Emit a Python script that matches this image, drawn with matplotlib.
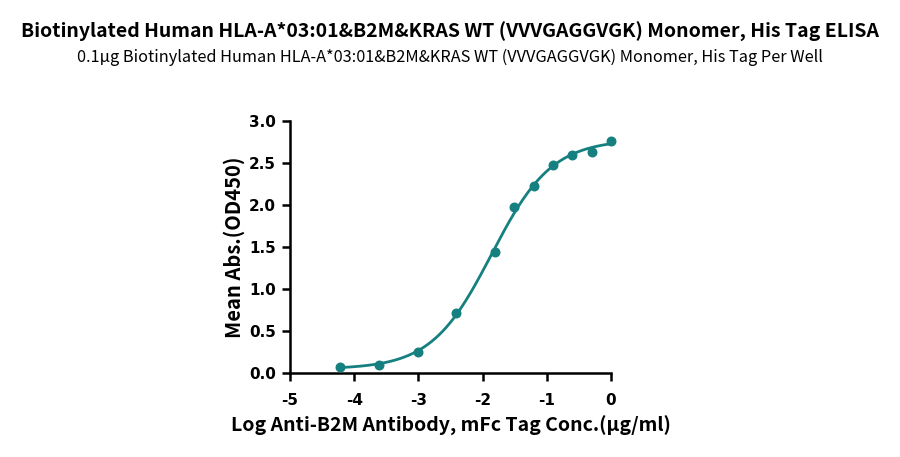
import numpy as np
import matplotlib

matplotlib.use("Agg")
import matplotlib.pyplot as plt

plt.rcParams["axes.unicode_minus"] = False

# log10 concentration (ug/ml) and mean OD450
log_conc = [-4.214, -3.612, -3.010, -2.408, -1.806, -1.505, -1.204, -0.903, -0.602, -0.301, 0.0]
od450 = [0.071, 0.103, 0.249, 0.717, 1.441, 1.983, 2.225, 2.474, 2.600, 2.636, 2.767]

title = "Biotinylated Human HLA-A*03:01&B2M&KRAS WT (VVVGAGGVGK) Monomer, His Tag ELISA"
subtitle = "0.1µg Biotinylated Human HLA-A*03:01&B2M&KRAS WT (VVVGAGGVGK) Monomer, His Tag Per Well"
xlabel = "Log Anti-B2M Antibody, mFc Tag Conc.(µg/ml)"
ylabel = "Mean Abs.(OD450)"

COLOR = "#168080"
CJK = ["Noto Sans CJK SC", "DejaVu Sans"]


def four_pl(x, bottom, top, logec50, hill):
    return bottom + (top - bottom) / (1 + 10 ** ((logec50 - x) * hill))


def fit_four_pl(x, y):
    # crude grid search least squares, numpy only
    x = np.asarray(x)
    y = np.asarray(y)
    b = np.linspace(0.0, 0.12, 13)
    t = np.linspace(2.6, 3.0, 21)
    c = np.linspace(-2.3, -1.5, 41)
    h = np.linspace(0.7, 1.6, 37)
    B, T, C, H = np.meshgrid(b, t, c, h, indexing="ij")
    pred = four_pl(x[None, None, None, None, :], B[..., None], T[..., None],
                   C[..., None], H[..., None])
    sse = ((pred - y) ** 2).sum(axis=-1)
    i = np.unravel_index(np.argmin(sse), sse.shape)
    return B[i], T[i], C[i], H[i]


params = fit_four_pl(log_conc, od450)
xs = np.linspace(min(log_conc), max(log_conc), 300)

fig = plt.figure(figsize=(9, 4.57), dpi=100)
ax = fig.add_axes([0.3222, 0.1832, 0.3567, 0.5521])

ax.plot(xs, four_pl(xs, *params), color=COLOR, lw=2.0, zorder=2)
ax.scatter(log_conc, od450, s=38, color=COLOR, zorder=3, clip_on=False)

ax.set_xlim(-5, 0)
ax.set_ylim(0, 3.0)
ax.set_xticks([-5, -4, -3, -2, -1, 0])
ax.set_yticks([0, 0.5, 1.0, 1.5, 2.0, 2.5, 3.0])
ax.set_yticklabels([f"{v:.1f}" for v in ax.get_yticks()])

for side in ["top", "right"]:
    ax.spines[side].set_visible(False)
for side in ["left", "bottom"]:
    ax.spines[side].set_linewidth(1.8)
ax.tick_params(direction="out", length=6, width=1.8, pad=4)
for lab in ax.get_xticklabels() + ax.get_yticklabels():
    lab.set_fontweight("bold")
    lab.set_fontsize(11)
    lab.set_family("DejaVu Sans")
ax.tick_params(axis="x", pad=8)

ax.set_xlabel(xlabel, family=CJK, fontweight="bold", fontsize=14, labelpad=6)
ax.set_ylabel(ylabel, family=CJK, fontweight="bold", fontsize=14.5, labelpad=3)

fig.text(0.5, 1 - 32 / 457, title, ha="center", va="center",
         family=CJK, fontweight="bold", fontsize=14)
fig.text(0.5, 1 - 57 / 457, subtitle, ha="center", va="center",
         family=CJK, fontsize=11.75)

fig.savefig("out.png", dpi=100)
